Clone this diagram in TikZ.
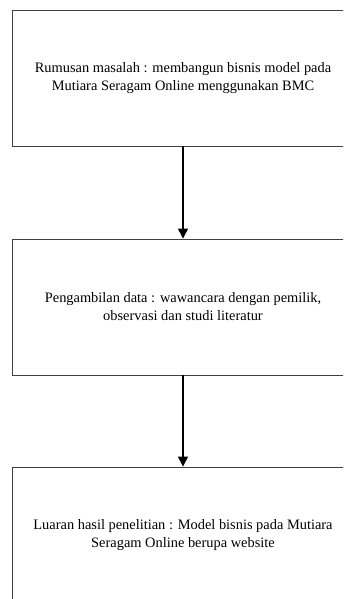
\documentclass[tikz,border=0pt]{standalone}
\usepackage{fontspec}
\setmainfont{Liberation Serif}
\usetikzlibrary{arrows.meta}

\tikzset{
  stepbox/.style={rectangle, draw=black!75, line width=0.9pt, minimum width=341pt, minimum height=136pt, align=center, font=\fontsize{14.4}{18}\selectfont},
  flowarrow/.style={line width=1.4pt, -{Triangle[width=10pt,length=10pt]}}
}

\begin{document}
\begin{tikzpicture}[x=1pt, y=-1pt]
            \useasboundingbox (0,0) rectangle (343,599);
            \clip (0,0) rectangle (343,599);

            % Draw boxes for each stage
            \node[stepbox] (rumusan) at (183, 78) {Rumusan masalah : membangun bisnis model pada\\Mutiara Seragam Online menggunakan BMC};

            \node[stepbox] (data) at (183, 307) {Pengambilan data : wawancara dengan pemilik,\\observasi dan studi literatur};

            \node[stepbox] (luaran) at (183, 535) {Luaran hasil penelitian : Model bisnis pada Mutiara\\Seragam Online berupa website};

            % Draw arrows between stages
            \draw[flowarrow] (rumusan) -- (data);
            \draw[flowarrow] (data) -- (luaran);

        \end{tikzpicture}
\end{document}
